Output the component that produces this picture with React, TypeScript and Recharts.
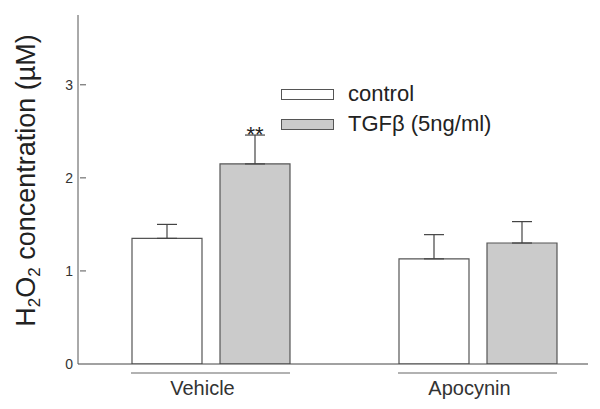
import React from "react";
import { BarChart, Bar, XAxis, YAxis, ErrorBar, LabelList, Legend } from "recharts";

const categories = ["Vehicle", "Apocynin"];
const controlValues = [1.35, 1.13];
const controlErrors = [0.15, 0.26];
const tgfValues = [2.15, 1.3];
const tgfErrors = [0.31, 0.23];
const significance = ["**", ""];
const yTicks = [0, 1, 2, 3];
const seriesNames = ["control", "TGFβ (5ng/ml)"];

const FONT = "'Liberation Sans', Arial, Helvetica, sans-serif";
const STROKE = "#555555";
const GRAY = "#cbcbcb";

const data = categories.map((c, i) => ({
  name: c,
  control: controlValues[i],
  controlErr: [0, controlErrors[i]],
  tgf: tgfValues[i],
  tgfErr: [0, tgfErrors[i]],
  sig: significance[i],
}));

const YTick = (props: any) => {
  const { x, y, payload } = props;
  const axisX = x + 8;
  return (
    <g>
      {payload.value !== 0 && (
        <line x1={axisX - 6} y1={y} x2={axisX} y2={y} stroke={STROKE} strokeWidth={1} />
      )}
      <text x={axisX - 13} y={y} dy={5} textAnchor="end" fontSize={14} fill="#333" fontFamily={FONT}>
        {payload.value}
      </text>
    </g>
  );
};

const XTick = (props: any) => {
  const { x, y, payload } = props;
  return (
    <g>
      <line x1={x - 79.5} y1={y + 9} x2={x + 79.5} y2={y + 9} stroke="#666" strokeWidth={1.2} />
      <text x={x - 8} y={y + 31} textAnchor="middle" fontSize={20} fill="#333" fontFamily={FONT}>
        {payload.value}
      </text>
    </g>
  );
};

const YLabel = (props: any) => {
  const vb = props.viewBox || { x: 0, y: 15, width: 78, height: 349 };
  const cx = 35;
  const cy = vb.y + vb.height / 2 - 9;
  return (
    <text
      x={cx}
      y={cy}
      transform={`rotate(-90, ${cx}, ${cy})`}
      textAnchor="middle"
      fontSize={27}
      fill="#222"
      fontFamily={FONT}
    >
      H<tspan fontSize={17} dy={5}>2</tspan>
      <tspan dy={-5}>O</tspan>
      <tspan fontSize={17} dy={5}>2</tspan>
      <tspan dy={-5}> concentration (µM)</tspan>
    </text>
  );
};

const StarLabel = (props: any) => {
  const { x, y, width, height, value, index } = props;
  if (!value) return null;
  const v = tgfValues[index];
  const e = tgfErrors[index];
  const ppu = height / v;
  const errTop = y - e * ppu;
  return (
    <text x={x + width / 2} y={errTop + 7} textAnchor="middle" fontSize={22} fill="#222" fontFamily={FONT}>
      {value}
    </text>
  );
};

const LegendContent = () => {
  const fills = ["#ffffff", GRAY];
  return (
    <div style={{ fontFamily: FONT }}>
      {seriesNames.map((n, i) => (
        <div key={n} style={{ display: "flex", alignItems: "center", height: 30 }}>
          <div
            style={{
              boxSizing: "border-box",
              width: 53,
              height: 11,
              border: `1px solid ${STROKE}`,
              background: fills[i],
            }}
          />
          <span style={{ marginLeft: 14, fontSize: 22, color: "#222", lineHeight: "30px" }}>{n}</span>
        </div>
      ))}
    </div>
  );
};

export default function App() {
  return (
    <div style={{ position: "absolute", left: 0, top: 0, background: "#fff" }}>
      <BarChart
        width={600}
        height={409}
        data={data}
        margin={{ top: 15, right: 12, bottom: 0, left: 0 }}
        barSize={70}
        barGap={18}
      >
        <XAxis
          dataKey="name"
          height={45}
          padding={{ left: -1, right: -23 }}
          axisLine={{ stroke: "#444", strokeWidth: 1.2 }}
          tickLine={false}
          tickSize={0}
          tickMargin={0}
          tick={<XTick />}
          interval={0}
        />
        <YAxis
          width={78}
          domain={[0, 3.75]}
          ticks={yTicks}
          axisLine={{ stroke: STROKE, strokeWidth: 1 }}
          tickLine={false}
          tickSize={0}
          tickMargin={0}
          tick={<YTick />}
          allowDataOverflow
          label={{ content: <YLabel /> }}
        />
        <Legend
          layout="vertical"
          align="center"
          verticalAlign="middle"
          content={<LegendContent />}
          wrapperStyle={{ left: 281, top: 79, width: "auto", height: "auto" }}
        />
        <Bar dataKey="control" name={seriesNames[0]} fill="#ffffff" stroke={STROKE} strokeWidth={1.2} isAnimationActive={false}>
          <ErrorBar dataKey="controlErr" direction="y" width={10} stroke="#444" strokeWidth={1.2} isAnimationActive={false} />
        </Bar>
        <Bar dataKey="tgf" name={seriesNames[1]} fill={GRAY} stroke={STROKE} strokeWidth={1.2} isAnimationActive={false}>
          <ErrorBar dataKey="tgfErr" direction="y" width={10} stroke="#444" strokeWidth={1.2} isAnimationActive={false} />
          <LabelList dataKey="sig" content={<StarLabel />} />
        </Bar>
      </BarChart>
    </div>
  );
}
